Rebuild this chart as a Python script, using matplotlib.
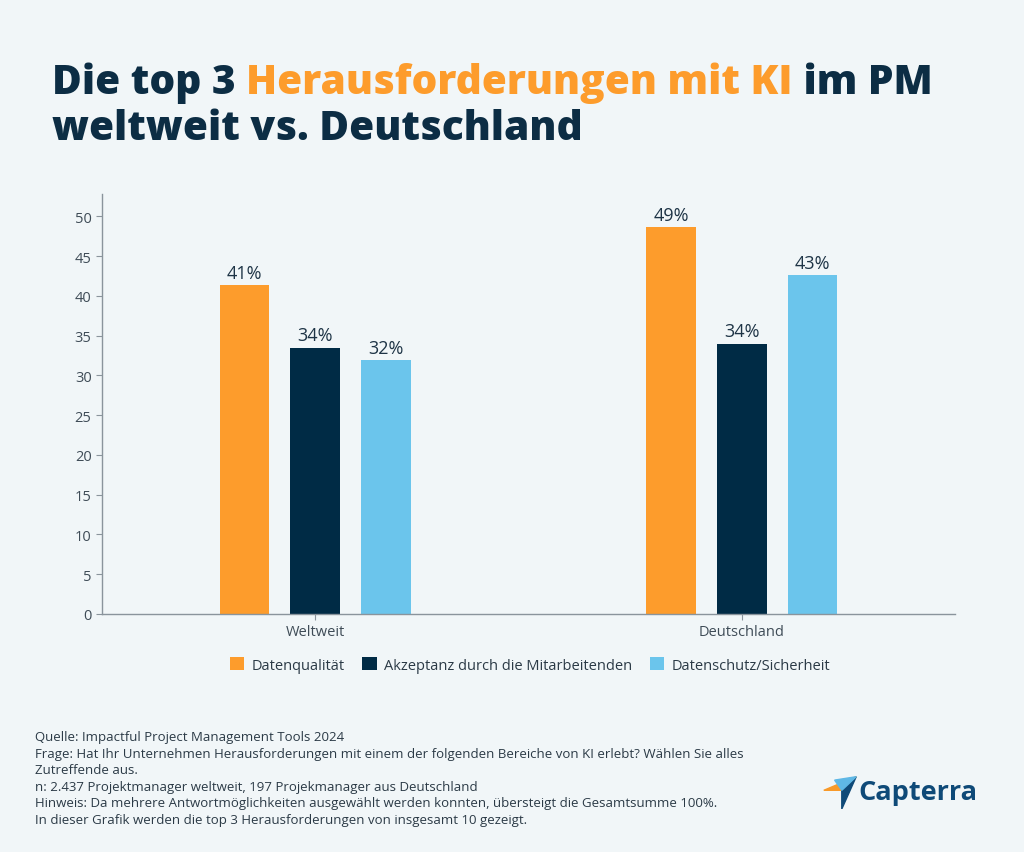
import matplotlib.pyplot as plt
import numpy as np
from matplotlib.patches import Polygon

BG = '#f1f6f8'
NAVY = '#0c2d44'
ORANGE = '#fd9c2c'
COLORS = ['#fd9c2c', '#002b45', '#6bc5ec']

groups = ['Weltweit', 'Deutschland']
series = ['Datenqualität', 'Akzeptanz durch die Mitarbeitenden', 'Datenschutz/Sicherheit']
values = [
    [41.3, 48.6],
    [33.5, 34.0],
    [31.9, 42.6],
]
labels = [['41%', '49%'], ['34%', '34%'], ['32%', '43%']]

footer = [
    'Quelle: Impactful Project Management Tools 2024',
    'Frage: Hat Ihr Unternehmen Herausforderungen mit einem der folgenden Bereiche von KI erlebt? Wählen Sie alles',
    'Zutreffende aus.',
    'n: 2.437 Projektmanager weltweit, 197 Projekmanager aus Deutschland',
    'Hinweis: Da mehrere Antwortmöglichkeiten ausgewählt werden konnten, übersteigt die Gesamtsumme 100%.',
    'In dieser Grafik werden die top 3 Herausforderungen von insgesamt 10 gezeigt.',
]

plt.rcParams['font.family'] = ['Open Sans', 'DejaVu Sans']

fig = plt.figure(figsize=(10.24, 8.53), dpi=100, facecolor=BG)
W, H = 1024, 853
ax = fig.add_axes([102 / W, 1 - 615 / H, 853 / W, 420 / H])
ax.set_facecolor(BG)

x = np.arange(len(groups))
width = 0.117
step = 0.166
for i, (name, vals) in enumerate(zip(series, values)):
    pos = x + (i - 1) * step
    bars = ax.bar(pos, vals, width, color=COLORS[i], label=name)
    for b, lab in zip(bars, labels[i]):
        ax.text(b.get_x() + b.get_width() / 2, b.get_height() + 0.4, lab,
                ha='center', va='bottom', fontsize=13, color='#1e3446')

ax.set_xlim(-0.5, 1.5)
ax.set_ylim(0, 52.8)
ax.set_yticks(range(0, 51, 5))
ax.set_xticks(x)
ax.set_xticklabels(groups)
ax.tick_params(axis='both', colors='#8a949c', labelcolor='#3f4c57', labelsize=10.5, length=4)
for s in ['top', 'right']:
    ax.spines[s].set_visible(False)
for s in ['left', 'bottom']:
    ax.spines[s].set_color('#8a949c')
    ax.spines[s].set_linewidth(1)

leg = fig.legend(loc='center', bbox_to_anchor=(530 / W, 1 - 666 / H), ncol=3, frameon=False,
                 fontsize=10.5, handlelength=1.0, handleheight=1.0, handletextpad=0.5,
                 columnspacing=1.2)
for t in leg.get_texts():
    t.set_color('#2b3a46')

# title, sized so that line 2 is as wide as in the reference
fig.canvas.draw()
r = fig.canvas.get_renderer()
probe = fig.text(0, 0, 'weltweit vs. Deutschland', fontsize=34, fontweight='heavy')
tw = probe.get_window_extent(r).width
probe.remove()
fs = 34 * 531 / tw

y1 = 1 - 94 / H
t1 = fig.text(52 / W, y1, 'Die top 3 ', fontsize=fs, fontweight='heavy', color=NAVY, va='baseline')
bb = t1.get_window_extent(r)
t2 = fig.text(bb.x1 / W, y1, 'Herausforderungen mit KI', fontsize=fs, fontweight='heavy',
              color=ORANGE, va='baseline')
bb2 = t2.get_window_extent(r)
fig.text(bb2.x1 / W, y1, ' im PM', fontsize=fs, fontweight='heavy', color=NAVY, va='baseline')
fig.text(52 / W, 1 - 140 / H, 'weltweit vs. Deutschland', fontsize=fs, fontweight='heavy',
         color=NAVY, va='baseline')

# footer
for k, line in enumerate(footer):
    fig.text(35 / W, 1 - (738 + k * 16.5) / H, line, fontsize=9.5, color='#2b3a46', va='center')

# logo
fig.text(858 / W, 1 - 793 / H, 'Capterra', fontsize=19.5, fontweight='bold', color='#0f4a78',
         va='center')
lax = fig.add_axes([822 / W, 1 - 810 / H, 36 / W, 34 / H])
lax.set_xlim(0, 1)
lax.set_ylim(0, 1)
lax.axis('off')
lax.add_patch(Polygon([[0.05, 0.55], [0.95, 0.95], [0.55, 0.55]], color='#f89a2a'))
lax.add_patch(Polygon([[0.55, 0.55], [0.95, 0.95], [0.55, 0.0]], color='#0f4a78'))
lax.add_patch(Polygon([[0.35, 0.85], [0.95, 0.95], [0.55, 0.55]], color='#5fb8e6'))

fig.savefig('out.png', dpi=100, facecolor=BG)
